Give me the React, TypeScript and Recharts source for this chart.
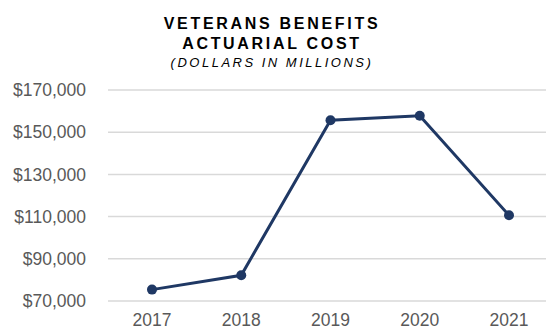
import React from 'react';
import { LineChart, Line, XAxis, YAxis, CartesianGrid } from 'recharts';

const YEARS = ['2017', '2018', '2019', '2020', '2021'];
const COST = [75400, 82200, 155700, 157800, 110600];
const Y_TICKS = [70000, 90000, 110000, 130000, 150000, 170000];

const data = YEARS.map((year, i) => ({ year, cost: COST[i] }));

const NAVY = '#1F3864';
const FONT = "Arial, 'Liberation Sans', sans-serif";

const fmtDollars = (v: number) => '$' + v.toLocaleString('en-US');

const App: React.FC = () => {
    return (
        <div style={{ position: 'absolute', left: 0, top: 0, width: 547, height: 329, fontFamily: FONT }}>
            <div
                style={{
                    position: 'absolute',
                    left: 0,
                    top: 13.7,
                    width: 544,
                    textAlign: 'center',
                    color: '#000',
                }}
            >
                <div style={{ fontSize: 16, lineHeight: '20px', fontWeight: 'bold', letterSpacing: 2.7 }}>
                    VETERANS BENEFITS
                </div>
                <div style={{ fontSize: 16, lineHeight: '20px', fontWeight: 'bold', letterSpacing: 2.7 }}>
                    ACTUARIAL COST
                </div>
                <div style={{ fontSize: 13, lineHeight: '17px', fontStyle: 'italic', letterSpacing: 2.5 }}>
                    (DOLLARS IN MILLIONS)
                </div>
            </div>
            <LineChart width={547} height={329} data={data} margin={{ top: 90, right: 1, bottom: 0, left: 0 }}>
                <CartesianGrid vertical={false} stroke="#d9d9d9" strokeWidth={1.5} />
                <XAxis
                    dataKey="year"
                    height={28}
                    axisLine={false}
                    tickLine={false}
                    tickSize={0}
                    tickMargin={13}
                    padding={{ left: 44, right: 37 }}
                    tick={{ fill: '#595959', fontSize: 17.5, fontFamily: FONT }}
                />
                <YAxis
                    width={108}
                    domain={[70000, 170000]}
                    ticks={Y_TICKS}
                    axisLine={false}
                    tickLine={false}
                    tickSize={0}
                    tickMargin={22}
                    tickFormatter={fmtDollars}
                    tick={{ fill: '#595959', fontSize: 17.5, fontFamily: FONT }}
                />
                <Line
                    type="linear"
                    dataKey="cost"
                    stroke={NAVY}
                    strokeWidth={3}
                    dot={{ r: 5, fill: NAVY, stroke: NAVY, strokeWidth: 0 }}
                    isAnimationActive={false}
                />
            </LineChart>
        </div>
    );
};

export default App;
